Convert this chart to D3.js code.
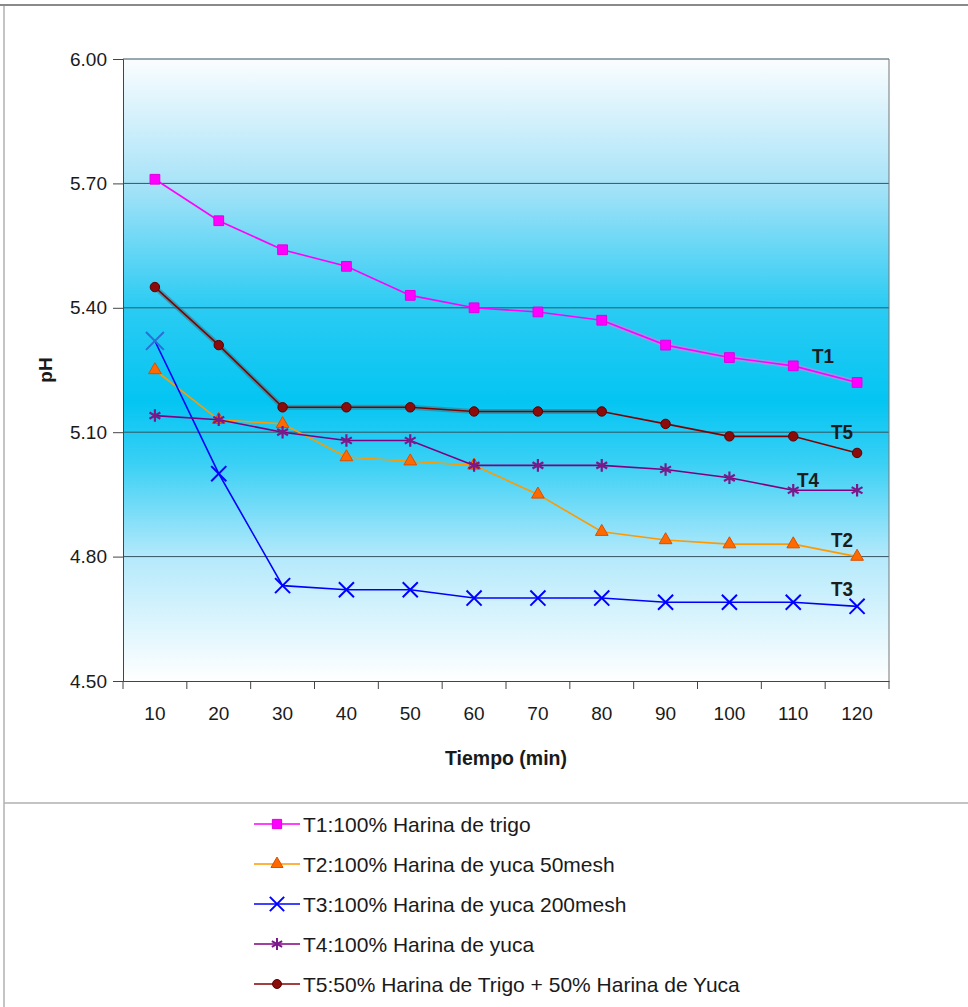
<!DOCTYPE html>
<html>
<head>
<meta charset="utf-8">
<script src="https://cdn.jsdelivr.net/npm/d3@7"></script>
<style>
  html, body { margin: 0; padding: 0; background: #fff; }
  svg { display: block; font-family: 'Liberation Sans', Arial, sans-serif; }
</style>
</head>
<body>
<div id="container"></div>
<script>
/* DATA */
var tiempos = ['10','20','30','40','50','60','70','80','90','100','110','120']
var yTicks = [4.50, 4.80, 5.10, 5.40, 5.70, 6.00]
var t1 = [5.71, 5.61, 5.54, 5.50, 5.43, 5.40, 5.39, 5.37, 5.31, 5.28, 5.26, 5.22]
var t2 = [5.25, 5.13, 5.12, 5.04, 5.03, 5.02, 4.95, 4.86, 4.84, 4.83, 4.83, 4.80]
var t3 = [5.32, 5.00, 4.73, 4.72, 4.72, 4.70, 4.70, 4.70, 4.69, 4.69, 4.69, 4.68]
var t4 = [5.14, 5.13, 5.10, 5.08, 5.08, 5.02, 5.02, 5.02, 5.01, 4.99, 4.96, 4.96]
var t5 = [5.45, 5.31, 5.16, 5.16, 5.16, 5.15, 5.15, 5.15, 5.12, 5.09, 5.09, 5.05]
var etiquetas = ['T1', 'T2', 'T3', 'T4', 'T5']
var leyenda = [
  'T1:100% Harina de trigo',
  'T2:100% Harina de yuca 50mesh',
  'T3:100% Harina de yuca 200mesh',
  'T4:100% Harina de yuca',
  'T5:50% Harina de Trigo + 50% Harina de Yuca'
]

/* STYLE */
var width = 968, height = 1007
var plot = { left: 123, right: 889, top: 59, bottom: 681 }

var series = [
  { name: etiquetas[0], values: t1, line: '#ff00ff', fill: '#ff00ff', stroke: '#e000e0', symbol: d3.symbolSquare, size: 95, stroked: false, lab: [812, 363] },
  { name: etiquetas[1], values: t2, line: '#ff9900', fill: '#ff6a00', stroke: '#d94f00', symbol: d3.symbolTriangle, size: 70, stroked: false, lab: [831, 547] },
  { name: etiquetas[2], values: t3, line: '#0000ff', fill: 'none', stroke: '#0000ff', symbol: d3.symbolTimes || d3.symbolCross, size: 150, stroked: true, lab: [831, 596] },
  { name: etiquetas[3], values: t4, line: '#800080', fill: 'none', stroke: '#7a1a8a', symbol: d3.symbolAsterisk || d3.symbolTimes, size: 110, stroked: true, lab: [797, 487] },
  { name: etiquetas[4], values: t5, line: '#800000', fill: '#8b0a0a', stroke: '#5a0000', symbol: d3.symbolCircle, size: 70, stroked: false, lab: [831, 439] }
]
series.forEach(function(s, i) { s.legend = leyenda[i] })

var svg = d3.select('#container')
  .append('svg')
  .attr('xmlns', 'http://www.w3.org/2000/svg')
  .attr('width', width)
  .attr('height', height)

var defs = svg.append('defs')
var grad = defs.append('linearGradient')
  .attr('id', 'bg').attr('x1', 0).attr('y1', 0).attr('x2', 0).attr('y2', 1)
var stops = [[0, '#fbfdff'], [0.2, '#a9e3f8'], [0.4, '#2acbf3'], [0.55, '#04c5f2'], [0.65, '#3ad0f5'], [0.8, '#b4e9fb'], [1, '#ffffff']]
stops.forEach(function(s) { grad.append('stop').attr('offset', s[0]).attr('stop-color', s[1]) })

/* SCALES */
var x = d3.scaleBand().domain(tiempos).range([plot.left, plot.right])
var y = d3.scaleLinear().domain([4.5, 6.0]).range([plot.bottom, plot.top])
var cx = function(i) { return x(tiempos[i]) + x.bandwidth() / 2 }

/* FRAME */
svg.append('line').attr('x1', 0).attr('x2', width).attr('y1', 5).attr('y2', 5)
  .attr('stroke', '#8a8a8a').attr('stroke-width', 2)
svg.append('line').attr('x1', 4).attr('x2', 4).attr('y1', 5).attr('y2', height)
  .attr('stroke', '#8a8a8a').attr('stroke-width', 1)
svg.append('line').attr('x1', 4).attr('x2', width).attr('y1', 803).attr('y2', 803)
  .attr('stroke', '#b0b0b0').attr('stroke-width', 1.5)

svg.append('rect')
  .attr('x', plot.left).attr('y', plot.top)
  .attr('width', plot.right - plot.left).attr('height', plot.bottom - plot.top)
  .attr('fill', 'url(#bg)')

// gridlines
svg.append('g').selectAll('line').data(yTicks.slice(1)).enter().append('line')
  .attr('x1', plot.left).attr('x2', plot.right)
  .attr('y1', function(d) { return y(d) }).attr('y2', function(d) { return y(d) })
  .attr('stroke', '#34535f').attr('stroke-width', 1)

svg.append('line').attr('x1', plot.right).attr('x2', plot.right)
  .attr('y1', plot.top).attr('y2', plot.bottom).attr('stroke', '#777').attr('stroke-width', 1)

/* AXES */
var yAxis = svg.append('g')
  .attr('transform', 'translate(' + plot.left + ',0)')
  .call(d3.axisLeft(y).tickValues(yTicks).tickFormat(d3.format('.2f')).tickSize(10).tickPadding(6))
yAxis.select('.domain').attr('stroke', '#444')
yAxis.selectAll('.tick line').attr('stroke', '#444')
yAxis.selectAll('text').attr('font-size', 19).attr('fill', '#1a1a1a')
  .attr('font-family', "'Liberation Sans', Arial, sans-serif")

var xAxis = svg.append('g')
  .attr('transform', 'translate(0,' + plot.bottom + ')')
  .call(d3.axisBottom(x).tickSize(0).tickPadding(26))
xAxis.select('.domain').attr('stroke', '#444')
xAxis.selectAll('text').attr('font-size', 19).attr('fill', '#1a1a1a')
  .attr('font-family', "'Liberation Sans', Arial, sans-serif")
// tick marks on band boundaries
var bounds = tiempos.map(function(t) { return x(t) }).concat([x.range()[1]])
xAxis.selectAll('.bnd').data(bounds).enter().append('line')
  .attr('x1', function(d) { return d }).attr('x2', function(d) { return d })
  .attr('y1', 0).attr('y2', 8).attr('stroke', '#444')

svg.append('text')
  .attr('x', (plot.left + plot.right) / 2).attr('y', 765)
  .attr('text-anchor', 'middle').attr('font-size', 20).attr('font-weight', 'bold')
  .attr('textLength', 122).attr('lengthAdjust', 'spacingAndGlyphs')
  .attr('fill', '#1a1a1a').text('Tiempo (min)')

svg.append('text')
  .attr('transform', 'translate(52,370) rotate(-90)')
  .attr('text-anchor', 'middle').attr('font-size', 19).attr('font-weight', 'bold')
  .attr('fill', '#1a1a1a').text('pH')

/* LINES */
var line = d3.line()
  .x(function(d, i) { return cx(i) })
  .y(function(d) { return y(d) })

// soft highlight bands seen under parts of T5 and T1
svg.append('path').datum(t5.slice(0, 8))
  .attr('d', line).attr('fill', 'none')
  .attr('stroke', '#3c7480').attr('stroke-width', 5).attr('stroke-opacity', 0.55)
svg.append('path').datum(t1)
  .attr('d', d3.line().defined(function(d, i) { return i >= 7 }).x(function(d, i) { return cx(i) }).y(function(d) { return y(d) }))
  .attr('fill', 'none').attr('stroke', '#b58be8').attr('stroke-width', 5).attr('stroke-opacity', 0.7)

var order = [1, 2, 3, 4, 0]
order.forEach(function(k) {
  var s = series[k]
  var g = svg.append('g')
  g.append('path').datum(s.values)
    .attr('d', line).attr('fill', 'none')
    .attr('stroke', s.line).attr('stroke-width', 1.6)
  g.selectAll('path.m').data(s.values).enter().append('path')
    .attr('class', 'm')
    .attr('transform', function(d, i) { return 'translate(' + cx(i) + ',' + y(d) + ')' })
    .attr('d', d3.symbol().type(s.symbol).size(function(d, i) { return (k === 2 && i === 0) ? s.size * 1.4 : s.size }))
    .attr('fill', s.fill)
    .attr('stroke', function(d, i) { return (k === 2 && i === 0) ? '#2a6fd6' : s.stroke })
    .attr('stroke-width', s.stroked ? ((k === 2) ? 2 : 2.2) : 1)
})

// series labels
svg.append('g').selectAll('text').data(series).enter().append('text')
  .attr('x', function(d) { return d.lab[0] }).attr('y', function(d) { return d.lab[1] })
  .attr('font-size', 20).attr('font-weight', 'bold').attr('fill', '#1c1c1c')
  .attr('textLength', 22).attr('lengthAdjust', 'spacingAndGlyphs')
  .text(function(d) { return d.name })

/* LEGEND */
var leg = svg.append('g')
var rows = leg.selectAll('g').data(series).enter().append('g')
  .attr('transform', function(d, i) { return 'translate(0,' + (824 + i * 40) + ')' })
rows.append('line').attr('x1', 254).attr('x2', 300).attr('y1', 0).attr('y2', 0)
  .attr('stroke', function(d) { return d.line }).attr('stroke-width', 1.6)
rows.append('path')
  .attr('transform', 'translate(277,0)')
  .attr('d', function(d) { return d3.symbol().type(d.symbol).size(d.size * 0.9)() })
  .attr('fill', function(d) { return d.fill })
  .attr('stroke', function(d) { return d.stroke })
  .attr('stroke-width', function(d) { return d.stroked ? 2 : 1 })
rows.append('text').attr('x', 303).attr('y', 8)
  .attr('font-size', 21).attr('fill', '#1a1a1a')
  .text(function(d) { return d.legend })
</script>
</body>
</html>
